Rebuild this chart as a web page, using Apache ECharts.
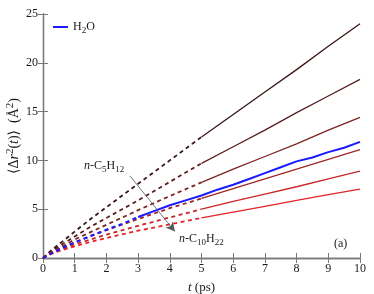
<!DOCTYPE html>
<html><head><meta charset="utf-8">
<script src="https://cdn.jsdelivr.net/npm/echarts@6/dist/echarts.min.js"></script>
<style>html,body{margin:0;padding:0;background:#fff}#c{width:374px;height:294px}</style>
</head><body><div id="c"></div>
<script>
// x values (ps)
const tDash = [0, 0.25, 0.5, 1, 1.5, 2, 3, 4, 5];
const tSolid = [5, 6, 7, 8, 9, 10];
// alkane series: C5H12 (top) ... C10H22 (bottom)
const alkDash = [
  [0, 0.75, 1.4, 2.7, 4.0, 5.2, 7.6, 10.0, 12.4],
  [0, 0.65, 1.2, 2.2, 3.2, 4.1, 5.9, 7.8, 9.7],
  [0, 0.55, 1.0, 1.9, 2.65, 3.4, 4.9, 6.35, 7.75],
  [0, 0.5, 0.9, 1.6, 2.25, 2.85, 4.0, 5.1, 6.1],
  [0, 0.45, 0.8, 1.4, 1.9, 2.4, 3.3, 4.15, 5.0],
  [0, 0.4, 0.7, 1.2, 1.65, 2.05, 2.8, 3.45, 4.1]
];
const alkSolid = [
  [12.4, 14.7, 17.0, 19.3, 21.7, 24.0],
  [9.7, 11.4, 13.1, 14.9, 16.6, 18.3],
  [7.75, 9.1, 10.4, 11.7, 13.1, 14.4],
  [6.1, 7.1, 8.1, 9.1, 10.1, 11.1],
  [5.0, 5.8, 6.55, 7.3, 8.1, 8.9],
  [4.1, 4.7, 5.3, 5.9, 6.5, 7.05]
];
const alkColors = ['#3a1616', '#5a1e1e', '#7c2222', '#a02626', '#c82626', '#e42424'];
// water
const tWaterDash = [0, 0.25, 0.5, 1, 1.5, 2, 2.5, 3];
const waterDash = [0, 0.45, 0.85, 1.6, 2.25, 2.9, 3.5, 4.2];
const tWaterSolid = [3, 3.5, 4, 4.5, 5, 5.5, 6, 6.5, 7, 7.5, 8, 8.5, 9, 9.5, 10];
const waterSolid = [4.2, 4.8, 5.4, 5.9, 6.4, 7.0, 7.5, 8.1, 8.7, 9.3, 9.9, 10.3, 10.85, 11.3, 11.9];
const xTicks = [0,1,2,3,4,5,6,7,8,9,10];
const yTicks = [0,5,10,15,20,25];
// arrow endpoints (data coords)
const arrowFrom = [2.74, 8.42];
const arrowTo = [4.16, 2.72];

const FONT = '"Liberation Serif", "DejaVu Serif", serif';
const AX = '#7a7a7a';
const TXT = '#1a1a1a';
const pair = (xs, ys) => xs.map((x, i) => [x, ys[i]]);

function mkRich(fs) {
  return {
    n:{fontFamily:FONT, fontSize:fs, color:TXT, verticalAlign:'top', padding:[2,0,0,0]},
    i:{fontFamily:FONT, fontSize:fs, fontStyle:'italic', color:TXT, verticalAlign:'top', padding:[2,0,0,0]},
    s:{fontFamily:FONT, fontSize:fs-3, color:TXT, verticalAlign:'top', padding:[7,0,0,0]},
    p:{fontFamily:FONT, fontSize:fs-3, color:TXT, verticalAlign:'top', padding:[0,0,0,0]}
  };
}

const series = [];
alkDash.forEach((d, i) => {
  series.push({type:'line', data: pair(tDash, d), showSymbol:false, silent:true,
    lineStyle:{color: alkColors[i], width:1.8, type:[4,3.5]}, z:2});
  series.push({type:'line', data: pair(tSolid, alkSolid[i]), showSymbol:false, silent:true,
    lineStyle:{color: alkColors[i], width:1.3}, z:2});
});
series.push({type:'line', name:'H2O', data: pair(tWaterDash, waterDash), showSymbol:false,
  lineStyle:{color:'#1a1aff', width:2, type:[4,3.5]}, itemStyle:{color:'#1a1aff'}, z:3});
series.push({type:'line', name:'H2O', data: pair(tWaterSolid, waterSolid), showSymbol:false,
  lineStyle:{color:'#1a1aff', width:2}, itemStyle:{color:'#1a1aff'}, z:3,
  markLine:{silent:true, symbol:['none','arrow'], symbolSize:[7,9], label:{show:false},
    lineStyle:{color:'#555', width:0.8, type:'solid'}, itemStyle:{color:'#111'},
    data:[[{coord: arrowFrom}, {coord: arrowTo}]]}});

const axisCommon = {
  type:'value', min:0,
  axisLine:{show:true, lineStyle:{color:AX, width:1.3}},
  axisTick:{show:true, inside:true, length:5, lineStyle:{color:AX, width:1}},
  splitLine:{show:false}
};

const chart = echarts.init(document.getElementById('c'), null, {renderer:'canvas'});
chart.setOption({
  animation:false,
  backgroundColor:'#fff',
  grid:{left:43, right:14, top:14, bottom:36, containLabel:false, outerBoundsMode:'none'},
  legend:{data:['H2O'], left:53, top:21, itemWidth:15, itemHeight:2, itemGap:2, icon:'rect',
    formatter: () => '{n|H}{s|2}{n|O}',
    textStyle:{fontFamily:FONT, fontSize:12, color:TXT, rich: mkRich(12)}, padding:0},
  xAxis:[
    Object.assign({}, axisCommon, {max:10, interval:1, position:'bottom',
      axisLabel:{fontFamily:FONT, fontSize:12, color:TXT, margin:5,
        formatter: v => xTicks.includes(v) ? String(v) : ''},
      name:'{i|t} {n|(ps)}', nameLocation:'middle', nameGap:20,
      nameTextStyle:{fontFamily:FONT, fontSize:13, color:TXT, rich: mkRich(13)}}),
    Object.assign({}, axisCommon, {max:10, interval:1, position:'top', axisLabel:{show:false}})
  ],
  yAxis:[
    Object.assign({}, axisCommon, {max:25, interval:5, position:'left',
      axisLabel:{fontFamily:FONT, fontSize:12, color:TXT, margin:5,
        formatter: v => yTicks.includes(v) ? String(v) : ''},
      name:'{n|⟨Δ}{i|r}{p|2}{n|(}{i|t}{n|)⟩  (Å}{p|2}{n|)}', nameLocation:'middle', nameGap:22, nameRotate:90,
      nameMoveOverlap:false,
      nameTextStyle:{fontFamily:FONT, fontSize:14, color:TXT, rich: mkRich(14)}}),
    Object.assign({}, axisCommon, {max:25, interval:5, position:'right', axisLabel:{show:false}})
  ],
  series: series,
  graphic:[
    {type:'text', left:84, top:160, silent:true, style:{text:'{i|n}{n|-C}{s|5}{n|H}{s|12}', fill:TXT,
      font:'12px ' + FONT, rich: mkRich(12)}},
    {type:'text', left:179, top:233, silent:true, style:{text:'{i|n}{n|-C}{s|10}{n|H}{s|22}', fill:TXT,
      font:'12px ' + FONT, rich: mkRich(12)}},
    {type:'text', left:334, top:238, silent:true, style:{text:'(a)', fill:TXT, font:'12px ' + FONT}}
  ]
});
</script></body></html>
